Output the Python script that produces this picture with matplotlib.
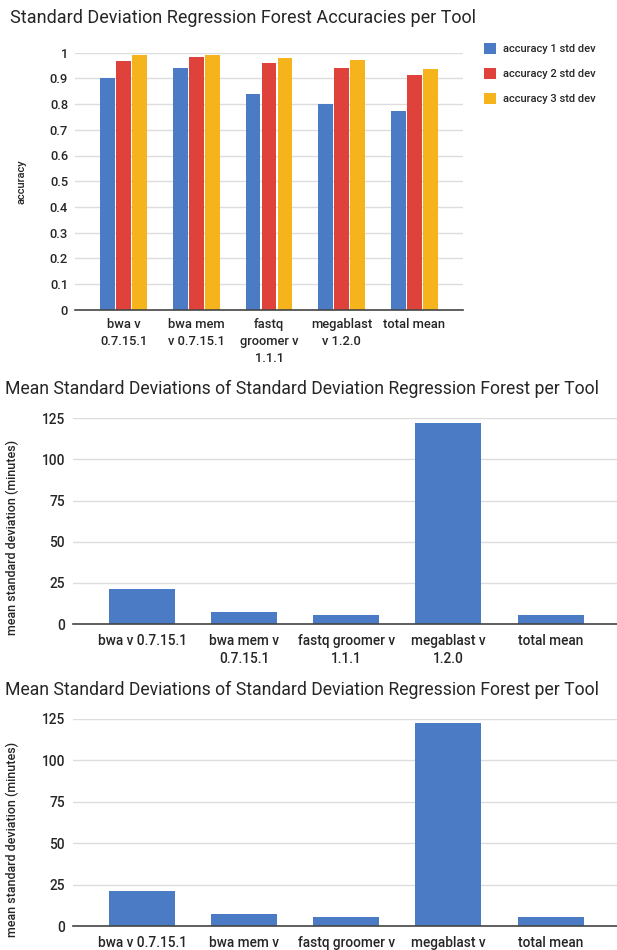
import matplotlib
matplotlib.use("Agg")
import matplotlib.pyplot as plt
import numpy as np

plt.rcParams['font.family'] = ['Roboto', 'DejaVu Sans']

tools_acc = ["bwa v\n0.7.15.1", "bwa mem\nv 0.7.15.1", "fastq\ngroomer v\n1.1.1",
             "megablast\nv 1.2.0", "total mean"]
acc_1std = [0.903, 0.94, 0.84, 0.80, 0.773]
acc_2std = [0.969, 0.982, 0.96, 0.94, 0.913]
acc_3std = [0.991, 0.991, 0.981, 0.97, 0.937]
acc_labels = ["accuracy 1 std dev", "accuracy 2 std dev", "accuracy 3 std dev"]

tools_std = ["bwa v 0.7.15.1", "bwa mem v\n0.7.15.1", "fastq groomer v\n1.1.1",
             "megablast v\n1.2.0", "total mean"]
# bottom copy of the chart runs off the page, only first label lines fit
tools_std_short = ["bwa v 0.7.15.1", "bwa mem v", "fastq groomer v",
                   "megablast v", "total mean"]
mean_std_minutes = [21.0, 7.4, 5.6, 122.4, 5.6]

BLUE = "#4a7bc4"
RED = "#df423a"
YELLOW = "#f5b41b"
TEXT = "#262626"
GRID = "#dddddd"

W, H = 617, 950
fig = plt.figure(figsize=(W / 100, H / 100), dpi=100)


def px_axes(left, top, right, bottom):
    # axes placed by pixel edges (origin top-left)
    return fig.add_axes([left / W, 1 - bottom / H, (right - left) / W, (bottom - top) / H])


def style(ax, ticksize, pad_y, pad_x):
    for side in ["top", "right", "left"]:
        ax.spines[side].set_visible(False)
    ax.spines["bottom"].set_color("#444444")
    ax.spines["bottom"].set_linewidth(1.2)
    ax.set_axisbelow(True)
    ax.grid(axis="y", color=GRID, linewidth=1.0)
    ax.tick_params(axis="both", length=0, labelsize=ticksize, labelcolor=TEXT)
    ax.tick_params(axis="y", pad=pad_y)
    ax.tick_params(axis="x", pad=pad_x)
    for lab in ax.get_xticklabels() + ax.get_yticklabels():
        lab.set_fontweight("medium")


# accuracies per tool
x = np.arange(len(tools_acc))
ax1 = px_axes(75, 52.7, 463, 309.7)
step, bw = 0.22, 0.202
b1 = ax1.bar(x - step, acc_1std, bw, color=BLUE, label=acc_labels[0])
b2 = ax1.bar(x, acc_2std, bw, color=RED, label=acc_labels[1])
b3 = ax1.bar(x + step, acc_3std, bw, color=YELLOW, label=acc_labels[2])
ax1.set_ylim(0, 1)
ax1.set_yticks(np.arange(0, 1.01, 0.1))
ax1.set_yticklabels(["0"] + ["%.1f" % v for v in np.arange(0.1, 0.95, 0.1)] + ["1"])
ax1.set_xlim(-0.67, len(tools_acc) - 1 + 0.67)
ax1.set_xticks(x)
ax1.set_xticklabels(tools_acc, linespacing=1.4)
style(ax1, 9.3, 5, 6)
ax1.set_ylabel("accuracy", fontsize=8, color=TEXT, fontweight="medium")
ax1.yaxis.set_label_coords(-0.125, 0.5)
ax1.legend(handles=[b1, b2, b3], loc="upper left", bbox_to_anchor=(484 / W, 1 - 43 / H),
           bbox_transform=fig.transFigure, frameon=False,
           prop={"size": 8, "weight": "medium"},
           handlelength=1.1, handleheight=1.1, handletextpad=0.6, labelspacing=1.25,
           borderpad=0, borderaxespad=0, labelcolor=TEXT)
fig.text(10 / W, 1 - 18 / H, "Standard Deviation Regression Forest Accuracies per Tool",
         fontsize=13, color=TEXT, va="center", ha="left")


def std_panel(top, bottom, title_y, labels):
    xs = np.arange(len(labels))
    ax = px_axes(72.7, top, 620, bottom)
    ax.bar(xs, mean_std_minutes, 0.646, color=BLUE)
    ax.set_ylim(0, 125)
    ax.set_yticks([0, 25, 50, 75, 100, 125])
    ax.set_xlim(-0.68, len(labels) - 1 + 0.68)
    ax.set_xticks(xs)
    ax.set_xticklabels(labels, linespacing=1.4)
    style(ax, 9.8, 5.5, 7)
    ax.set_ylabel("mean standard deviation (minutes)", fontsize=9, color=TEXT,
                  fontweight="medium")
    ax.yaxis.set_label_coords(-0.098, 0.42)
    fig.text(5 / W, 1 - title_y / H,
             "Mean Standard Deviations of Standard Deviation Regression Forest per Tool",
             fontsize=12.7, color=TEXT, va="center", ha="left")
    return ax


std_panel(418.3, 624, 389, tools_std)
std_panel(719, 926, 690, tools_std_short)

fig.savefig("out.png", dpi=100, facecolor="white")
